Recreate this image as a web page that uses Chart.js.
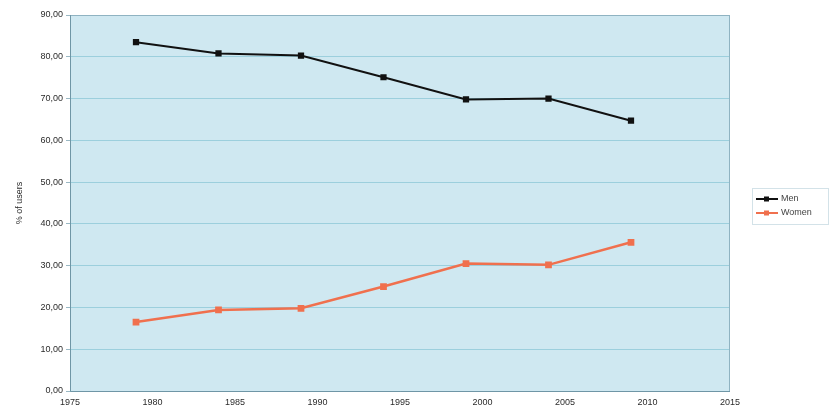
<!DOCTYPE html>
<html>
<head>
<meta charset="utf-8">
<script src="https://cdn.jsdelivr.net/npm/chart.js@4.4.0/dist/chart.umd.min.js"></script>
<style>
    html, body { margin: 0; padding: 0; background: #ffffff; }
    #wrap { width: 832px; height: 412px; }
</style>
</head>
<body>
<div id="wrap"><canvas id="usersChart" width="832" height="412"></canvas></div>
<script>
// data
const years = [1979, 1984, 1989, 1994, 1999, 2004, 2009];
const men = [83.5, 80.8, 80.3, 75.1, 69.8, 70.0, 64.7];
const women = [16.5, 19.4, 19.8, 25.0, 30.5, 30.2, 35.6];
const seriesNames = ['Men', 'Women'];
const seriesColors = ['#111111', '#f0704e'];
const yTitle = '% of users';

// plot area background + frame
const plotBg = {
    id: 'plotBg',
    beforeDraw(chart) {
        const { ctx, chartArea: a } = chart;
        ctx.save();
        ctx.fillStyle = '#cfe8f1';
        ctx.fillRect(a.left, a.top, a.right - a.left, a.bottom - a.top);
        ctx.restore();
    },
    afterDatasetsDraw(chart) {
        const { ctx, chartArea: a } = chart;
        ctx.save();
        ctx.strokeStyle = '#8fb3c2';
        ctx.lineWidth = 1;
        ctx.strokeRect(a.left + 0.5, a.top + 0.5, a.right - a.left - 1, a.bottom - a.top);
        ctx.strokeStyle = '#6f96a6';
        ctx.beginPath();
        ctx.moveTo(a.left + 0.5, a.top);
        ctx.lineTo(a.left + 0.5, a.bottom + 0.5);
        ctx.lineTo(a.right, a.bottom + 0.5);
        ctx.stroke();
        ctx.restore();
    }
};

// legend box on the right, line with marker like the original
const boxLegend = {
    id: 'boxLegend',
    afterDraw(chart) {
        const ctx = chart.ctx;
        const x = 752, y = 188, w = 76, h = 36;
        ctx.save();
        ctx.strokeStyle = '#d3e2e8';
        ctx.lineWidth = 1;
        ctx.strokeRect(x + 0.5, y + 0.5, w, h);
        ctx.font = '9px "Liberation Sans", Arial, sans-serif';
        ctx.textBaseline = 'middle';
        seriesNames.forEach(function (name, i) {
            const cy = y + 11 + i * 14;
            ctx.strokeStyle = seriesColors[i];
            ctx.fillStyle = seriesColors[i];
            ctx.lineWidth = 2;
            ctx.beginPath();
            ctx.moveTo(x + 4, cy);
            ctx.lineTo(x + 26, cy);
            ctx.stroke();
            ctx.fillRect(x + 12, cy - 2.5, 5, 5);
            ctx.fillStyle = '#444444';
            ctx.fillText(name, x + 29, cy);
        });
        ctx.restore();
    }
};

const ctx = document.getElementById('usersChart');
new Chart(ctx, {
    type: 'line',
    data: {
        datasets: [
            {
                label: seriesNames[0],
                data: years.map((yr, i) => ({ x: yr, y: men[i] })),
                borderColor: seriesColors[0],
                backgroundColor: seriesColors[0],
                borderWidth: 2,
                pointStyle: 'rect',
                pointRadius: 3,
                tension: 0
            },
            {
                label: seriesNames[1],
                data: years.map((yr, i) => ({ x: yr, y: women[i] })),
                borderColor: seriesColors[1],
                backgroundColor: seriesColors[1],
                borderWidth: 2.5,
                pointStyle: 'rect',
                pointRadius: 3,
                tension: 0
            }
        ]
    },
    options: {
        responsive: false,
        animation: false,
        layout: { padding: { left: 0, right: 102, top: 15, bottom: 0 } },
        plugins: {
            legend: { display: false },
            tooltip: { enabled: false }
        },
        scales: {
            x: {
                type: 'linear',
                min: 1975,
                max: 2015,
                grid: { display: false, drawTicks: false },
                border: { display: false },
                afterFit: function (s) { s.height = 21; },
                ticks: {
                    stepSize: 5,
                    padding: 6,
                    color: '#2b2b2b',
                    font: { family: '"Liberation Sans", Arial, sans-serif', size: 9 },
                    callback: v => String(v)
                }
            },
            y: {
                min: 0,
                max: 90,
                grid: { color: '#9ccfdd', lineWidth: 1, drawTicks: true, tickLength: 4, tickColor: '#9ab8c4' },
                border: { display: false },
                afterFit: function (s) { s.width = 70; },
                title: {
                    display: true,
                    text: yTitle,
                    color: '#2b2b2b',
                    padding: { top: 14, bottom: 2 },
                    font: { family: '"Liberation Sans", Arial, sans-serif', size: 9 }
                },
                ticks: {
                    stepSize: 10,
                    padding: 3,
                    color: '#2b2b2b',
                    font: { family: '"Liberation Sans", Arial, sans-serif', size: 9 },
                    callback: v => v.toFixed(2).replace('.', ',')
                }
            }
        }
    },
    plugins: [plotBg, boxLegend]
});
</script>
</body>
</html>
